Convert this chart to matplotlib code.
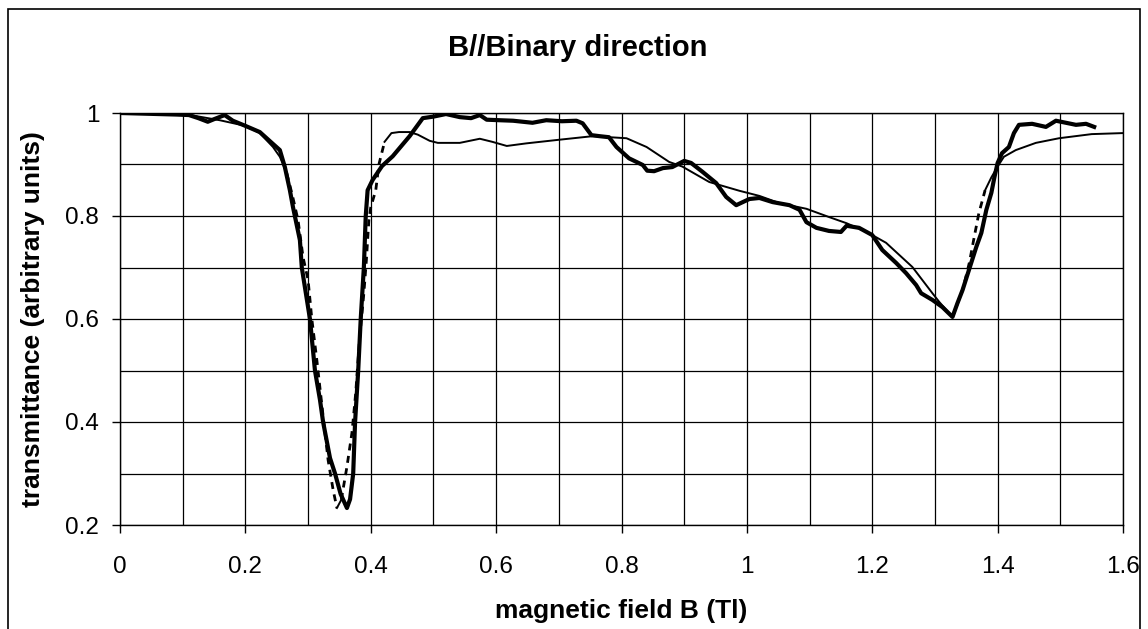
import numpy as np
import matplotlib
matplotlib.use('Agg')
import matplotlib.pyplot as plt
from matplotlib.patches import Rectangle

plt.rcParams['font.family'] = ['Liberation Sans', 'DejaVu Sans']

# measured transmittance (thick trace)
data_b = [0.0, 0.03, 0.06, 0.09, 0.11, 0.125, 0.14, 0.15, 0.167, 0.18, 0.2, 0.223,
          0.244, 0.255, 0.263, 0.271, 0.276, 0.287, 0.29, 0.303, 0.311, 0.319, 0.324,
          0.335, 0.343, 0.352, 0.362, 0.367, 0.372, 0.375, 0.38, 0.384, 0.389, 0.392,
          0.395, 0.403, 0.418, 0.435, 0.462, 0.483, 0.5, 0.52, 0.542, 0.56, 0.574,
          0.585, 0.605, 0.627, 0.658, 0.68, 0.705, 0.728, 0.738, 0.752, 0.765, 0.78,
          0.792, 0.812, 0.834, 0.841, 0.852, 0.866, 0.881, 0.9, 0.911, 0.929, 0.951,
          0.967, 0.983, 1.004, 1.02, 1.041, 1.068, 1.084, 1.095, 1.111, 1.131, 1.15,
          1.159, 1.179, 1.2, 1.216, 1.238, 1.254, 1.27, 1.278, 1.296, 1.312, 1.328,
          1.336, 1.344, 1.355, 1.366, 1.374, 1.382, 1.39, 1.395, 1.4, 1.407, 1.418,
          1.426, 1.434, 1.455, 1.477, 1.493, 1.509, 1.525, 1.541, 1.554]
data_t = [1.0, 0.999, 0.998, 0.997, 0.996, 0.99, 0.983, 0.988, 0.996, 0.985, 0.975, 0.963,
          0.94, 0.928, 0.895, 0.85, 0.817, 0.753, 0.70, 0.6, 0.5, 0.443, 0.4,
          0.33, 0.3, 0.26, 0.233, 0.25, 0.3, 0.4, 0.5, 0.6, 0.7, 0.8,
          0.85, 0.87, 0.897, 0.916, 0.955, 0.99, 0.993, 0.998, 0.992, 0.99, 0.996,
          0.987, 0.986, 0.985, 0.981, 0.986, 0.984, 0.985, 0.98, 0.957, 0.955, 0.953,
          0.934, 0.912, 0.899, 0.888, 0.887, 0.893, 0.895, 0.907, 0.903, 0.886, 0.864,
          0.837, 0.821, 0.833, 0.835, 0.827, 0.821, 0.812, 0.788, 0.777, 0.771, 0.769,
          0.781, 0.777, 0.763, 0.734, 0.709, 0.689, 0.666, 0.65, 0.637, 0.623, 0.604,
          0.631, 0.656, 0.698, 0.74, 0.767, 0.812, 0.845, 0.876, 0.903, 0.922, 0.934,
          0.961, 0.977, 0.979, 0.973, 0.985, 0.981, 0.977, 0.979, 0.973]

# calculated transmittance (thin trace)
fit_b = [0.0, 0.05, 0.1, 0.112, 0.159, 0.2, 0.223, 0.244, 0.255, 0.266, 0.275, 0.284,
         0.292, 0.3, 0.306, 0.314, 0.327, 0.332, 0.34, 0.346, 0.353, 0.362, 0.37,
         0.376, 0.382, 0.389, 0.393, 0.397, 0.40, 0.408, 0.413, 0.422, 0.433, 0.445,
         0.462, 0.475, 0.494, 0.507, 0.542, 0.574, 0.594, 0.617, 0.648, 0.70, 0.754,
         0.808, 0.84, 0.876, 0.897, 0.94, 0.988, 1.02, 1.052, 1.095, 1.131, 1.159,
         1.191, 1.2, 1.222, 1.264, 1.296, 1.307, 1.328, 1.336, 1.345, 1.355, 1.362,
         1.37, 1.38, 1.39, 1.40, 1.41, 1.429, 1.461, 1.498, 1.55, 1.6]
fit_t = [1.0, 0.999, 0.997, 0.996, 0.986, 0.975, 0.961, 0.934, 0.915, 0.883, 0.84, 0.792,
         0.72, 0.676, 0.6, 0.52, 0.379, 0.326, 0.268, 0.233, 0.249, 0.313, 0.379,
         0.456, 0.559, 0.65, 0.714, 0.792, 0.817, 0.85, 0.9, 0.944, 0.961, 0.963,
         0.963, 0.958, 0.946, 0.942, 0.942, 0.95, 0.944, 0.936, 0.941, 0.948, 0.955,
         0.951, 0.934, 0.905, 0.896, 0.866, 0.849, 0.839, 0.825, 0.814, 0.798, 0.786,
         0.769, 0.763, 0.748, 0.701, 0.65, 0.633, 0.604, 0.63, 0.66, 0.71, 0.755,
         0.805, 0.85, 0.875, 0.896, 0.915, 0.928, 0.942, 0.951, 0.959, 0.961]

fig = plt.figure(figsize=(11.48, 6.29), dpi=100)
ax = fig.add_axes([120 / 1148, 1 - 525 / 629, 1003 / 1148, 412 / 629])

# outer chart border (runs off the bottom edge)
fig.patches.append(Rectangle((8 / 1148, -0.05), 1132 / 1148, 0.05 + 1 - 9 / 629,
                             transform=fig.transFigure, fill=False,
                             edgecolor='black', linewidth=1.2))

ax.set_xlim(0, 1.6)
ax.set_ylim(0.2, 1.0)
ax.set_xticks(np.arange(0, 1.61, 0.2))
ax.set_yticks(np.arange(0.2, 1.01, 0.2))
ax.set_xticks(np.arange(0.1, 1.6, 0.2), minor=True)
ax.set_yticks(np.arange(0.3, 1.0, 0.2), minor=True)
ax.set_xticklabels(['0', '0.2', '0.4', '0.6', '0.8', '1', '1.2', '1.4', '1.6'])
ax.set_yticklabels(['0.2', '0.4', '0.6', '0.8', '1'])
ax.grid(True, which='both', color='black', linewidth=0.9)
ax.set_axisbelow(True)
ax.tick_params(axis='both', which='major', direction='out', length=6, width=1,
               labelsize=17.5, colors='black')
ax.tick_params(axis='x', which='major', pad=16)
ax.tick_params(axis='y', which='major', pad=9)
ax.tick_params(axis='both', which='minor', length=0)
for s in ax.spines.values():
    s.set_color('black')
    s.set_linewidth(1)

# thin trace: dashed where it is steep, solid elsewhere
fb = np.array(fit_b)
ft = np.array(fit_t)
steep = np.abs(np.diff(ft) / np.diff(fb)) > 3
i = 0
while i < len(steep):
    j = i
    while j + 1 < len(steep) and steep[j + 1] == steep[i]:
        j += 1
    if steep[i]:
        ax.plot(fb[i:j + 2], ft[i:j + 2], color='black', lw=2.0,
                linestyle=(0, (2.5, 2)), zorder=3)
    else:
        ax.plot(fb[i:j + 2], ft[i:j + 2], color='black', lw=1.4, zorder=3)
    i = j + 1

ax.plot(data_b, data_t, color='black', lw=3.0, solid_joinstyle='round', zorder=4)

fig.text(578 / 1148, 1 - 48 / 629, 'B//Binary direction', fontsize=21,
         fontweight='bold', ha='center', va='center')
fig.text(621 / 1148, 1 - 611 / 629, 'magnetic field B (Tl)', fontsize=19,
         fontweight='bold', ha='center', va='center')
fig.text(33 / 1148, 1 - 319 / 629, 'transmittance (arbitrary units)', fontsize=19,
         fontweight='bold', ha='center', va='center', rotation=90)

fig.savefig('out.png', dpi=100)
